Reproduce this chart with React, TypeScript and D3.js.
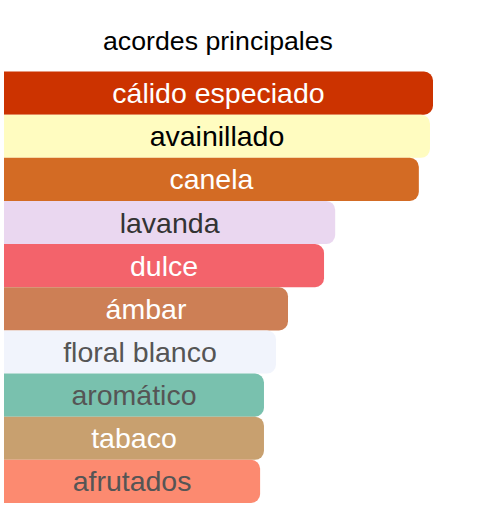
import { useEffect, useRef } from "react";
import * as d3 from "d3";

const accords = [
  "cálido especiado",
  "avainillado",
  "canela",
  "lavanda",
  "dulce",
  "ámbar",
  "floral blanco",
  "aromático",
  "tabaco",
  "afrutados",
];
const strengths = [100, 99.3, 96.7, 77.2, 74.6, 66.2, 63.4, 60.6, 60.6, 59.7];
const barColors = [
  "#cc3300",
  "#fffcc0",
  "#d36b24",
  "#ead7f0",
  "#f3636b",
  "#cd7f55",
  "#f1f4fc",
  "#79c1ae",
  "#c8a06f",
  "#fc8a70",
];
const textColors = [
  "#ffffff",
  "#000000",
  "#ffffff",
  "#333333",
  "#ffffff",
  "#ffffff",
  "#555555",
  "#555555",
  "#ffffff",
  "#555555",
];

const width = 490;
const height = 509;

function barPath(x0: number, y0: number, w: number, h: number, r: number): string {
  const p = d3.path();
  p.moveTo(x0, y0);
  p.lineTo(x0 + w - r, y0);
  p.arcTo(x0 + w, y0, x0 + w, y0 + r, r);
  p.lineTo(x0 + w, y0 + h - r);
  p.arcTo(x0 + w, y0 + h, x0 + w - r, y0 + h, r);
  p.lineTo(x0, y0 + h);
  p.closePath();
  return p.toString();
}

export default function App(): JSX.Element {
  const ref = useRef<SVGSVGElement | null>(null);

  useEffect(() => {
    if (!ref.current) return;
    const x = d3.scaleLinear().domain([0, 100]).range([0, 429]);
    const y = d3.scaleBand().domain(accords).range([71.5, 503]).padding(0);

    const svg = d3.select(ref.current);
    svg.selectAll("*").remove();

    svg
      .append("text")
      .attr("x", 218)
      .attr("y", 50)
      .attr("text-anchor", "middle")
      .attr("font-family", "'Liberation Sans', Arial, sans-serif")
      .attr("font-size", 26.7)
      .attr("fill", "#000")
      .text("acordes principales");

    const g = svg.append("g").attr("transform", "translate(4,0)");

    const rows = g
      .selectAll("g.row")
      .data(accords)
      .join("g")
      .attr("class", "row");

    rows
      .append("path")
      .attr("d", (d, i) => barPath(0, y(d) ?? 0, x(strengths[i]), y.bandwidth(), 9))
      .attr("fill", (_, i) => barColors[i]);

    rows
      .append("text")
      .attr("x", (_, i) => x(strengths[i]) / 2)
      .attr("y", (d) => (y(d) ?? 0) + y.bandwidth() / 2)
      .attr("dy", "0.35em")
      .attr("text-anchor", "middle")
      .attr("font-family", "'Liberation Sans', Arial, sans-serif")
      .attr("font-size", 28.5)
      .attr("fill", (_, i) => textColors[i])
      .text((d) => d);
  }, []);

  return (
    <svg
      ref={ref}
      width={width}
      height={height}
      style={{ position: "absolute", left: 0, top: 0, background: "#fff" }}
    />
  );
}
